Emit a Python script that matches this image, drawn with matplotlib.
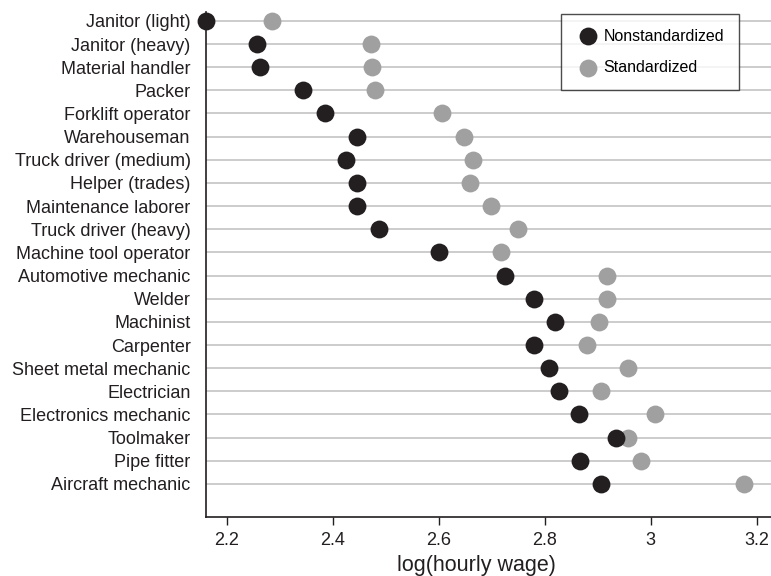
import matplotlib
matplotlib.use("Agg")
import matplotlib.pyplot as plt

occupations = [
    "Janitor (light)", "Janitor (heavy)", "Material handler", "Packer",
    "Forklift operator", "Warehouseman", "Truck driver (medium)", "Helper (trades)",
    "Maintenance laborer", "Truck driver (heavy)", "Machine tool operator",
    "Automotive mechanic", "Welder", "Machinist", "Carpenter",
    "Sheet metal mechanic", "Electrician", "Electronics mechanic", "Toolmaker",
    "Pipe fitter", "Aircraft mechanic",
]
nonstandardized = [
    2.161, 2.258, 2.263, 2.345, 2.386, 2.446, 2.425, 2.446, 2.446, 2.487, 2.601,
    2.725, 2.780, 2.819, 2.780, 2.809, 2.827, 2.865, 2.934, 2.867, 2.906,
]
standardized = [
    2.286, 2.472, 2.475, 2.480, 2.606, 2.648, 2.665, 2.659, 2.698, 2.750, 2.717,
    2.918, 2.917, 2.902, 2.879, 2.957, 2.906, 3.009, 2.958, 2.982, 3.176,
]
xticks = [2.2, 2.4, 2.6, 2.8, 3.0, 3.2]
xtick_labels = ["2.2", "2.4", "2.6", "2.8", "3", "3.2"]

plt.rcParams['font.family'] = ['Liberation Sans', 'DejaVu Sans']

fig = plt.figure(figsize=(7.71, 5.76), dpi=100)
ax = fig.add_axes([0.267, 0.1024, 0.733, 0.877])

ypos = list(range(len(occupations)))
for y in ypos:
    ax.axhline(y, color="#c8c8c8", lw=1.3, zorder=0)

ax.scatter(standardized, ypos, s=165, color="#a0a0a0", label="Standardized",
           zorder=2, linewidths=0, clip_on=False)
ax.scatter(nonstandardized, ypos, s=165, color="#231f20", label="Nonstandardized",
           zorder=3, linewidths=0, clip_on=False)

ax.set_xlim(2.161, 3.227)
ax.set_ylim(len(occupations) - 1 + 1.43, -0.39)
ax.set_yticks(ypos)
ax.set_yticklabels(occupations, fontsize=13, color="#231f20")
ax.tick_params(axis="y", length=0, pad=11)
ax.set_xticks(xticks)
ax.set_xticklabels(xtick_labels, fontsize=13, color="#231f20")
ax.tick_params(axis="x", length=6, width=1, color="#231f20", pad=5)
ax.set_xlabel("log(hourly wage)", fontsize=15.5, color="#231f20", labelpad=6)
ax.xaxis.set_label_coords(0.478, -0.075)

for s in ["top", "right"]:
    ax.spines[s].set_visible(False)
for s in ["left", "bottom"]:
    ax.spines[s].set_color("#231f20")
    ax.spines[s].set_linewidth(1.2)

handles, labels = ax.get_legend_handles_labels()
leg = ax.legend(handles[::-1], labels[::-1], loc="upper right", bbox_to_anchor=(0.947, 1.0),
                borderaxespad=0.15,
                fontsize=11.5, frameon=True, fancybox=False, edgecolor="#231f20",
                borderpad=0.9, handletextpad=0.2, labelspacing=1.05, markerscale=1.0,
                handlelength=1.6)
leg.get_frame().set_linewidth(1.0)

fig.savefig("out.png", dpi=100)
